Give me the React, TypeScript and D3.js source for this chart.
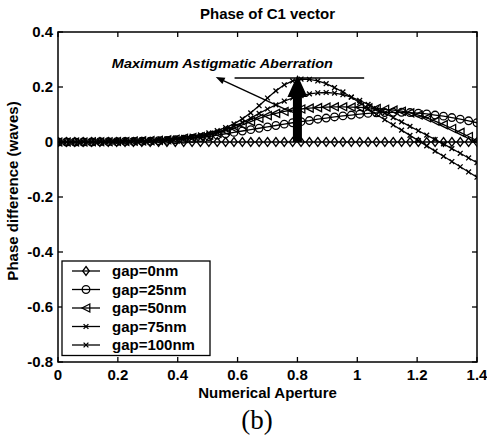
import React from "react";
import * as d3 from "d3";

const NA = [
  0, 0.028, 0.056, 0.084, 0.112, 0.14, 0.168, 0.196, 0.224, 0.252,
  0.28, 0.308, 0.336, 0.364, 0.392, 0.42, 0.448, 0.476, 0.504, 0.532,
  0.56, 0.588, 0.616, 0.644, 0.672, 0.7, 0.728, 0.756, 0.784, 0.812,
  0.84, 0.868, 0.896, 0.924, 0.952, 0.98, 1.008, 1.036, 1.064, 1.092,
  1.12, 1.148, 1.176, 1.204, 1.232, 1.26, 1.288, 1.316, 1.344, 1.372, 1.4,
];

const gap0 = [
  0, 0, 0, 0, 0, 0, 0, 0, 0, 0,
  0, 0, 0, 0, 0, 0, 0, 0, 0, 0,
  0, 0, 0, 0, 0, 0, 0, 0, 0, 0,
  0, 0, 0, 0, 0, 0, 0, 0, 0, 0,
  0, 0, 0, 0, 0, 0, 0, 0, 0, 0, 0,
];

const gap25 = [
  0, 0, 0, 0, 0, 0.001, 0.001, 0.001, 0.002, 0.002,
  0.003, 0.003, 0.005, 0.006, 0.008, 0.01, 0.013, 0.016, 0.02, 0.025,
  0.03, 0.035, 0.04, 0.045, 0.05, 0.055, 0.06, 0.065, 0.07, 0.074,
  0.078, 0.083, 0.087, 0.091, 0.095, 0.098, 0.101, 0.104, 0.106, 0.107,
  0.108, 0.108, 0.107, 0.105, 0.102, 0.098, 0.094, 0.089, 0.083, 0.077, 0.07,
];

const gap50 = [
  0, 0, 0, 0, 0.001, 0.001, 0.001, 0.002, 0.002, 0.003,
  0.004, 0.005, 0.006, 0.008, 0.01, 0.013, 0.016, 0.02, 0.025, 0.032,
  0.04, 0.05, 0.062, 0.074, 0.086, 0.096, 0.104, 0.111, 0.116, 0.12,
  0.123, 0.125, 0.127, 0.128, 0.128, 0.127, 0.126, 0.124, 0.122, 0.119,
  0.116, 0.112, 0.106, 0.098, 0.088, 0.076, 0.063, 0.049, 0.035, 0.02, 0.005,
];

const gap75 = [
  0, 0, 0, 0.001, 0.001, 0.001, 0.002, 0.002, 0.003, 0.004,
  0.005, 0.006, 0.007, 0.009, 0.011, 0.014, 0.017, 0.022, 0.028, 0.035,
  0.045, 0.057, 0.071, 0.087, 0.104, 0.12, 0.135, 0.149, 0.16, 0.169,
  0.175, 0.179, 0.18, 0.178, 0.172, 0.163, 0.151, 0.137, 0.121, 0.105,
  0.089, 0.073, 0.057, 0.041, 0.025, 0.009, -0.007, -0.024, -0.041, -0.058, -0.075,
];

const gap100 = [
  0, 0, 0, 0.001, 0.001, 0.002, 0.002, 0.003, 0.004, 0.005,
  0.006, 0.007, 0.009, 0.011, 0.014, 0.017, 0.021, 0.026, 0.033, 0.041,
  0.052, 0.066, 0.084, 0.106, 0.132, 0.16, 0.186, 0.208, 0.222, 0.229,
  0.228, 0.222, 0.212, 0.198, 0.182, 0.163, 0.143, 0.122, 0.1, 0.081,
  0.062, 0.043, 0.024, 0.005, -0.014, -0.033, -0.052, -0.071, -0.09, -0.109, -0.128,
];

const seriesNames = ["gap=0nm", "gap=25nm", "gap=50nm", "gap=75nm", "gap=100nm"];
const seriesValues = [gap0, gap25, gap50, gap75, gap100];
const seriesMarkers = ["diamond", "circle", "triangle", "x", "x"];

const xTicks = [0, 0.2, 0.4, 0.6, 0.8, 1, 1.2, 1.4];
const yTicks = [0.4, 0.2, 0, -0.2, -0.4, -0.6, -0.8];

const titleText = "Phase of C1 vector";
const xLabelText = "Numerical Aperture";
const yLabelText = "Phase difference (waves)";
const annotationText = "Maximum Astigmatic Aberration";
const captionText = "(b)";

// annotation anchor values (data coordinates)
const annoTextPos = [0.18, 0.269];
const annoArrowFrom = [0.78, 0.109];
const annoArrowTo = [0.527, 0.236];
const annoHLine = [0.59, 1.023, 0.233];
const bigArrow = [0.8, 0, 0.164, 0.244];

const W = 487;
const H = 438;
const L = 58, R = 477, T = 32, B = 362;
const FONT = "'Liberation Sans', Arial, Helvetica, sans-serif";
const SW = 1.3;

function Marker({ type, x, y }: { type: string; x: number; y: number }) {
  const common = { fill: "none", stroke: "#000", strokeWidth: SW };
  if (type === "diamond")
    return <path d={`M${x},${y - 4.5}L${x + 3.3},${y}L${x},${y + 4.5}L${x - 3.3},${y}Z`} {...common} />;
  if (type === "circle") return <circle cx={x} cy={y} r={3.8} {...common} />;
  if (type === "triangle")
    return <path d={`M${x - 4},${y}L${x + 3.8},${y - 4}L${x + 3.8},${y + 4}Z`} {...common} />;
  return (
    <path
      d={`M${x - 2.4},${y - 2.4}L${x + 2.4},${y + 2.4}M${x - 2.4},${y + 2.4}L${x + 2.4},${y - 2.4}`}
      {...common}
    />
  );
}

export default function App() {
  const x = d3.scaleLinear().domain([0, 1.4]).range([L, R]);
  const y = d3.scaleLinear().domain([-0.8, 0.4]).range([B, T]);
  const line = d3
    .line<number>()
    .x((_, i) => x(NA[i]))
    .y((d) => y(d));

  const ax = x(bigArrow[0]);
  const y0 = y(bigArrow[1]);
  const yb = y(bigArrow[2]);
  const yt = y(bigArrow[3]);
  const sw = 4.5, hw = 10;
  const bigArrowPath = `M${ax - sw},${y0}L${ax - sw},${yb}L${ax - hw},${yb}L${ax},${yt}L${ax + hw},${yb}L${ax + sw},${yb}L${ax + sw},${y0}Z`;

  const fx = x(annoArrowFrom[0]), fy = y(annoArrowFrom[1]);
  const tx = x(annoArrowTo[0]), ty = y(annoArrowTo[1]);
  const ang = Math.atan2(ty - fy, tx - fx);
  const hl = 9, hwid = 3.5;
  const bx = tx - hl * Math.cos(ang), by = ty - hl * Math.sin(ang);
  const headPath = `M${tx},${ty}L${bx + hwid * Math.sin(ang)},${by - hwid * Math.cos(ang)}L${bx - hwid * Math.sin(ang)},${by + hwid * Math.cos(ang)}Z`;

  const legX = 62, legY = 261, legW = 148, legRow = 18.5;

  return (
    <svg
      width={W}
      height={H}
      style={{ position: "absolute", left: 0, top: 0, background: "#fff" }}
      fontFamily={FONT}
    >
      <rect x={0} y={0} width={W} height={H} fill="#fff" />
      <defs>
        <clipPath id="plot">
          <rect x={L} y={T} width={R - L} height={B - T} />
        </clipPath>
      </defs>

      {/* series */}
      <g clipPath="url(#plot)">
        {seriesValues.map((vals, si) => (
          <g key={si}>
            <path d={line(vals) || ""} fill="none" stroke="#000" strokeWidth={SW} />
            {vals.map((v, i) => (
              <Marker key={i} type={seriesMarkers[si]} x={x(NA[i])} y={y(v)} />
            ))}
          </g>
        ))}
      </g>

      {/* annotation */}
      <path d={bigArrowPath} fill="#000" />
      <line x1={x(annoHLine[0])} x2={x(annoHLine[1])} y1={y(annoHLine[2])} y2={y(annoHLine[2])} stroke="#000" strokeWidth={1.4} />
      <line x1={fx} y1={fy} x2={bx} y2={by} stroke="#000" strokeWidth={1.4} />
      <path d={headPath} fill="#000" />
      <text
        x={x(annoTextPos[0])}
        y={y(annoTextPos[1])}
        fontSize={12.5}
        fontWeight="bold"
        fontStyle="italic"
        textLength={221}
        lengthAdjust="spacingAndGlyphs"
      >
        {annotationText}
      </text>

      {/* axes box and ticks */}
      <rect x={L} y={T} width={R - L} height={B - T} fill="none" stroke="#000" strokeWidth={1.5} />
      {xTicks.map((t) => (
        <g key={"x" + t}>
          <line x1={x(t)} x2={x(t)} y1={B} y2={B - 5} stroke="#000" strokeWidth={1.3} />
          <line x1={x(t)} x2={x(t)} y1={T} y2={T + 5} stroke="#000" strokeWidth={1.3} />
          <text x={x(t)} y={B + 18} fontSize={15} fontWeight="bold" textAnchor="middle">
            {String(t)}
          </text>
        </g>
      ))}
      {yTicks.map((t) => (
        <g key={"y" + t}>
          <line x1={L} x2={L + 5} y1={y(t)} y2={y(t)} stroke="#000" strokeWidth={1.3} />
          <line x1={R} x2={R - 5} y1={y(t)} y2={y(t)} stroke="#000" strokeWidth={1.3} />
          <text x={L - 5} y={y(t) + 5} fontSize={15} fontWeight="bold" textAnchor="end">
            {String(t)}
          </text>
        </g>
      ))}

      {/* legend */}
      <rect x={legX} y={legY} width={legW} height={legRow * 5 + 2} fill="#fff" stroke="#000" strokeWidth={1.3} />
      {seriesNames.map((name, i) => {
        const cy = legY + 10 + i * legRow;
        return (
          <g key={name}>
            <line x1={legX + 10} x2={legX + 38} y1={cy} y2={cy} stroke="#000" strokeWidth={SW} />
            <Marker type={seriesMarkers[i]} x={legX + 24} y={cy} />
            <text x={legX + 50} y={cy + 5} fontSize={15} fontWeight="bold">
              {name}
            </text>
          </g>
        );
      })}

      {/* labels */}
      <text x={(L + R) / 2} y={19} fontSize={15} fontWeight="bold" textAnchor="middle">
        {titleText}
      </text>
      <text x={(L + R) / 2} y={398} fontSize={15} fontWeight="bold" textAnchor="middle">
        {xLabelText}
      </text>
      <text
        transform={`translate(18,${(T + B) / 2 - 6}) rotate(-90)`}
        fontSize={15}
        fontWeight="bold"
        textAnchor="middle"
      >
        {yLabelText}
      </text>
      <text x={257} y={429} fontSize={27} textAnchor="middle" fontFamily="'Liberation Serif', 'Times New Roman', serif">
        {captionText}
      </text>
    </svg>
  );
}
